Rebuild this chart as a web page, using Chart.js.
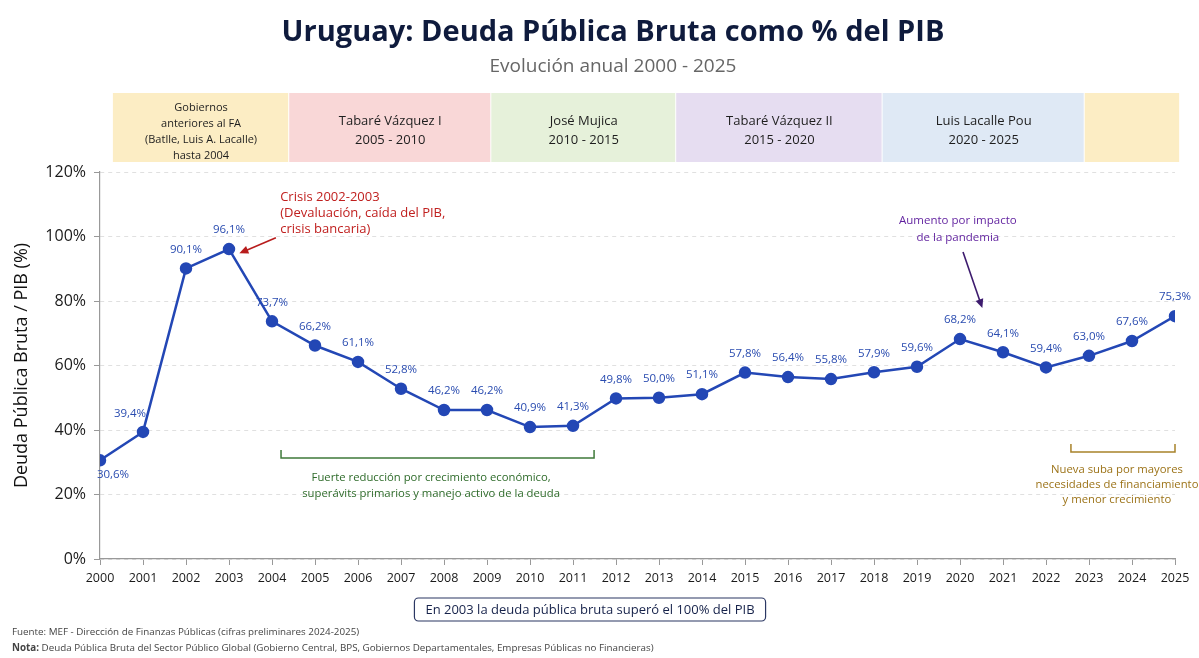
<!DOCTYPE html>
<html>
<head>
<meta charset="utf-8">
<script src="https://cdn.jsdelivr.net/npm/chart.js@4.4.1/dist/chart.umd.min.js"></script>
<style>
  html, body { margin: 0; padding: 0; background: #ffffff; }
  #wrap { width: 1199px; height: 658px; }
</style>
</head>
<body>
<div id="wrap"><canvas id="myChart" width="1199" height="658"></canvas></div>
<script>
// datos
var years = [2000, 2001, 2002, 2003, 2004, 2005, 2006, 2007, 2008, 2009, 2010, 2011, 2012,
             2013, 2014, 2015, 2016, 2017, 2018, 2019, 2020, 2021, 2022, 2023, 2024, 2025];
var deuda = [30.6, 39.4, 90.1, 96.1, 73.7, 66.2, 61.1, 52.8, 46.2, 46.2, 40.9, 41.3, 49.8,
             50.0, 51.1, 57.8, 56.4, 55.8, 57.9, 59.6, 68.2, 64.1, 59.4, 63.0, 67.6, 75.3];
var yTicks = [0, 20, 40, 60, 80, 100, 120];

// periodos de gobierno (limites en años)
var periodoDesde = [2000.3, 2004.4, 2009.1, 2013.4, 2018.2, 2022.9];
var periodoHasta = [2004.4, 2009.1, 2013.4, 2018.2, 2022.9, 2025.12];
var periodoTexto = [
    ["Gobiernos", "anteriores al FA", "(Batlle, Luis A. Lacalle)", "hasta 2004"],
    ["Tabaré Vázquez I", "2005 - 2010"],
    ["José Mujica", "2010 - 2015"],
    ["Tabaré Vázquez II", "2015 - 2020"],
    ["Luis Lacalle Pou", "2020 - 2025"],
    []
];
var periodoColor = ["#fcedc4", "#f9d7d7", "#e6f1da", "#e6ddf1", "#dfe9f5", "#fcedc4"];

var azul = "#2347b5";
var fuente = "'Open Sans', 'Noto Sans', sans-serif";

function fmt(v) {
    return v.toFixed(1).replace(".", ",") + "%";
}

var puntos = [];
for (var i in years) {
    puntos.push({ x: years[i], y: deuda[i] });
}

function flecha(ctx, x1, y1, x2, y2, color) {
    var a = Math.atan2(y2 - y1, x2 - x1);
    ctx.strokeStyle = color;
    ctx.fillStyle = color;
    ctx.lineWidth = 1.6;
    ctx.beginPath();
    ctx.moveTo(x1, y1);
    ctx.lineTo(x2 - 6 * Math.cos(a), y2 - 6 * Math.sin(a));
    ctx.stroke();
    ctx.beginPath();
    ctx.moveTo(x2, y2);
    ctx.lineTo(x2 - 9 * Math.cos(a) + 4 * Math.sin(a), y2 - 9 * Math.sin(a) - 4 * Math.cos(a));
    ctx.lineTo(x2 - 9 * Math.cos(a) - 4 * Math.sin(a), y2 - 9 * Math.sin(a) + 4 * Math.cos(a));
    ctx.closePath();
    ctx.fill();
}

function llave(ctx, x1, x2, y, color) {
    ctx.strokeStyle = color;
    ctx.lineWidth = 1.5;
    ctx.beginPath();
    ctx.moveTo(x1, y - 8);
    ctx.lineTo(x1, y);
    ctx.lineTo(x2, y);
    ctx.lineTo(x2, y - 8);
    ctx.stroke();
}

function lineas(ctx, textos, x, y, dy) {
    for (var k = 0; k < textos.length; k++) {
        ctx.fillText(textos[k], x, y + k * dy);
    }
}

var decoraciones = {
    id: "decoraciones",
    beforeDraw: function(chart) {
        var ctx = chart.ctx;
        var xs = chart.scales.x;
        var area = chart.chartArea;
        ctx.save();
        // bandas de gobiernos
        for (var p = 0; p < periodoDesde.length; p++) {
            var x1 = xs.getPixelForValue(periodoDesde[p]);
            var x2 = xs.getPixelForValue(periodoHasta[p]);
            ctx.fillStyle = periodoColor[p];
            ctx.fillRect(x1, area.top - 79, x2 - x1 - 1, 69);
            ctx.fillStyle = "#1e1e1e";
            ctx.textAlign = "center";
            ctx.textBaseline = "middle";
            var cx = (x1 + x2) / 2;
            if (periodoTexto[p].length > 2) {
                ctx.font = "11px " + fuente;
                lineas(ctx, periodoTexto[p], cx, area.top - 64, 16);
            } else if (periodoTexto[p].length) {
                ctx.font = "13px " + fuente;
                lineas(ctx, periodoTexto[p], cx, area.top - 51, 19);
            }
        }
        // titulo
        ctx.fillStyle = "#0f1b3d";
        ctx.font = "bold 29px " + fuente;
        ctx.fillText("Uruguay: Deuda Pública Bruta como % del PIB", 613, 33);
        ctx.fillStyle = "#666666";
        ctx.font = "19px " + fuente;
        ctx.fillText("Evolución anual 2000 - 2025", 613, 67);
        ctx.restore();
    },
    afterDatasetsDraw: function(chart) {
        var ctx = chart.ctx;
        var xs = chart.scales.x;
        var ys = chart.scales.y;
        var meta = chart.getDatasetMeta(0);
        ctx.save();
        // etiquetas de datos
        ctx.font = "11.5px " + fuente;
        ctx.fillStyle = "#2a4cb0";
        ctx.textAlign = "center";
        ctx.textBaseline = "middle";
        for (var i = 0; i < meta.data.length; i++) {
            var pt = meta.data[i];
            var dx = 0, dy = -19;
            if (i === 0) { dx = 13; dy = 14; }
            if (i === 1) { dx = -13; dy = -18; }
            ctx.fillText(fmt(deuda[i]), pt.x + dx, pt.y + dy);
        }

        // crisis
        ctx.fillStyle = "#c0201f";
        ctx.textAlign = "left";
        ctx.font = "13px " + fuente;
        lineas(ctx, ["Crisis 2002-2003", "(Devaluación, caída del PIB,", "crisis bancaria)"],
            xs.getPixelForValue(2004.19), ys.getPixelForValue(112.2), 16);
        flecha(ctx, xs.getPixelForValue(2004.09), ys.getPixelForValue(99.6),
            xs.getPixelForValue(2003.24), ys.getPixelForValue(94.8), "#b81c1c");

        // pandemia
        ctx.fillStyle = "#5f1f9e";
        ctx.textAlign = "center";
        ctx.font = "11.5px " + fuente;
        lineas(ctx, ["Aumento por impacto", "de la pandemia"],
            xs.getPixelForValue(2019.95), ys.getPixelForValue(104.8), 17);
        flecha(ctx, xs.getPixelForValue(2020.07), ys.getPixelForValue(95.2),
            xs.getPixelForValue(2020.52), ys.getPixelForValue(77.8), "#3d1b6e");

        // reduccion
        ctx.font = "11.3px " + fuente;
        llave(ctx, xs.getPixelForValue(2004.21), xs.getPixelForValue(2011.49), ys.getPixelForValue(31.3), "#3f7a3a");
        ctx.fillStyle = "#2e6b2a";
        lineas(ctx, ["Fuerte reducción por crecimiento económico,", "superávits primarios y manejo activo de la deuda"],
            xs.getPixelForValue(2007.7), ys.getPixelForValue(25.1), 16);

        // nueva suba
        llave(ctx, xs.getPixelForValue(2022.58), xs.getPixelForValue(2025), ys.getPixelForValue(33.2), "#a8822a");
        ctx.fillStyle = "#9c7318";
        lineas(ctx, ["Nueva suba por mayores", "necesidades de financiamiento", "y menor crecimiento"],
            xs.getPixelForValue(2023.65), ys.getPixelForValue(27.6), 15);

        // nota inferior
        ctx.font = "13px " + fuente;
        var txt = "En 2003 la deuda pública bruta superó el 100% del PIB";
        var w = ctx.measureText(txt).width + 22;
        var bx = 590 - w / 2;
        ctx.strokeStyle = "#2b3763";
        ctx.lineWidth = 1.2;
        ctx.beginPath();
        ctx.roundRect(bx, 598, w, 23, 4);
        ctx.stroke();
        ctx.fillStyle = "#16224a";
        ctx.fillText(txt, 590, 610);

        // fuente
        ctx.textAlign = "left";
        ctx.fillStyle = "#444444";
        ctx.font = "9.8px " + fuente;
        ctx.fillText("Fuente: MEF - Dirección de Finanzas Públicas (cifras preliminares 2024-2025)", 12, 632);
        ctx.font = "bold 9.8px " + fuente;
        ctx.fillText("Nota:", 12, 648);
        var nw = ctx.measureText("Nota:").width;
        ctx.font = "9.8px " + fuente;
        ctx.fillText(" Deuda Pública Bruta del Sector Público Global (Gobierno Central, BPS, Gobiernos Departamentales, Empresas Públicas no Financieras)", 12 + nw, 648);
        ctx.restore();
    }
};

var ctx = document.getElementById("myChart");

var grafico = new Chart(ctx, {
    type: "line",
    data: {
        datasets: [{
            label: "Deuda Pública Bruta (% PIB)",
            data: puntos,
            borderColor: azul,
            borderWidth: 2.5,
            backgroundColor: azul,
            pointBackgroundColor: azul,
            pointBorderColor: azul,
            pointRadius: 5,
            tension: 0
        }]
    },
    options: {
        responsive: false,
        animation: false,
        layout: {
            padding: { left: 0, right: 24, top: 172, bottom: 0 }
        },
        plugins: {
            legend: { display: false },
            tooltip: { enabled: false }
        },
        scales: {
            x: {
                type: "linear",
                min: 2000,
                max: 2025,
                afterFit: function(s) { s.height = 99; },
                afterBuildTicks: function(s) {
                    s.ticks = years.map(function(y) { return { value: y }; });
                },
                ticks: {
                    stepSize: 1,
                    autoSkip: false,
                    maxRotation: 0,
                    padding: 6,
                    color: "#1a1a1a",
                    font: { family: fuente, size: 12.5 },
                    callback: function(v) { return String(v); }
                },
                grid: { drawOnChartArea: false, tickLength: 6, color: "#999999" },
                border: { color: "#999999", width: 1.2 }
            },
            y: {
                min: 0,
                max: 120,
                afterFit: function(s) { s.width = 100; },
                afterBuildTicks: function(s) {
                    s.ticks = yTicks.map(function(v) { return { value: v }; });
                },
                ticks: {
                    color: "#1a1a1a",
                    padding: 8,
                    font: { family: fuente, size: 16 },
                    callback: function(v) { return v + "%"; }
                },
                title: {
                    display: true,
                    text: "Deuda Pública Bruta / PIB (%)",
                    color: "#111111",
                    font: { family: fuente, size: 18 },
                    padding: { top: 11, bottom: 0 }
                },
                grid: { color: "#e0e0e0", tickLength: 6, tickColor: "#999999", tickBorderDash: [] },
                border: { color: "#999999", width: 1.2, dash: [4, 4] }
            }
        }
    },
    plugins: [decoraciones]
});
</script>
</body>
</html>
